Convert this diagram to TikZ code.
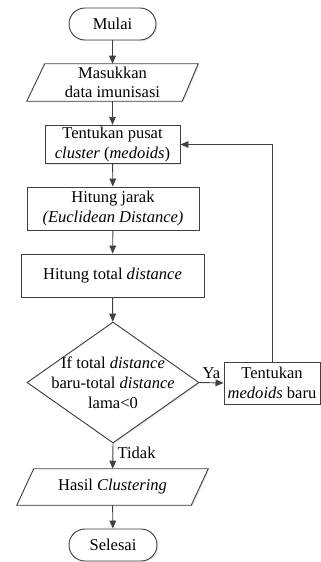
\documentclass[tikz,border=0pt]{standalone}
\usepackage{fontspec}
\setmainfont{Liberation Serif}
\usetikzlibrary{shapes.geometric,arrows.meta,calc,shadows}
\definecolor{lc}{gray}{0.25}
\begin{document}
\begin{tikzpicture}[x=0.75pt,y=-0.75pt,
  font=\fontsize{12.4}{14.6}\selectfont,
  shd/.style={drop shadow={opacity=0.18,shadow xshift=0.9pt,shadow yshift=-0.9pt}},
  base/.style={draw=lc,line width=0.7pt,fill=white,align=center,inner sep=1.5pt},
  term/.style={base,shd,rounded corners=12pt,minimum width=65.25pt,minimum height=24pt},
  proc/.style={base,shd,rectangle},
  iotext/.style={rectangle,align=center,inner sep=2pt},
  iobox/.style={draw=lc,line width=0.7pt,fill=white,shd},
  dec/.style={base,shd,diamond,inner sep=0pt,minimum width=129pt,minimum height=90.75pt},
  arr/.style={draw=lc,line width=0.7pt,-{Triangle[length=6pt,width=5pt]}},
  lbl/.style={inner sep=1pt}]
\useasboundingbox (0,0) rectangle (321,562);

% nodes
\node[term] (mulai) at (112.5,24) {Mulai};

\node[iotext,minimum width=128.25pt,minimum height=27.75pt] (in) at (112.5,82.5) {};
\draw[iobox] ($(in.north west)+(18,0)$) -- (in.north east) -- ($(in.south east)+(-16,0)$) -- (in.south west) -- cycle;
\node[iotext,align=center] (intext) at (in.center) {Masukkan\\data imunisasi};

\node[proc,minimum width=101.25pt,minimum height=27.75pt] (b1) at (112.5,144.5) {Tentukan pusat\\\textit{cluster} (\textit{medoids})};
\node[proc,minimum width=129pt,minimum height=32.25pt] (b2) at (113,208.5) {Hitung jarak\\\textit{(Euclidean Distance)}};
\node[proc,minimum width=137.25pt,minimum height=32.25pt] (b3) at (112.5,275.5) {Hitung total \textit{distance}};

\node[dec] (dec) at (113,382.5) {};
\node[iotext,align=center,font=\fontsize{12.4}{15}\selectfont] (dectext) at (113,383) {If total \textit{distance}\\baru-total \textit{distance}\\lama{\textless}0};

\node[proc,minimum width=72pt,minimum height=31.5pt] (tm) at (272,383) {Tentukan\\\textit{medoids} baru};

\node[iotext,minimum width=143.25pt,minimum height=27pt] (out) at (112.5,487) {};
\draw[iobox] ($(out.north west)+(17,0)$) -- (out.north east) -- ($(out.south east)+(-17,0)$) -- (out.south west) -- cycle;
\node[iotext] (outtext) at (out.center) {Hasil \textit{Clustering}};

\node[term,minimum width=66pt] (selesai) at (113,545) {Selesai};

% connectors
\draw[arr] (mulai) -- (in);
\draw[arr] (in) -- (b1);
\draw[arr] (b1) -- (b2);
\draw[arr] (b2) -- (b3);
\draw[arr] (b3) -- (dec);
\draw[arr] (dec.east) -- (tm.west);
\draw[arr] (tm.north) |- (b1.east);
\draw[arr] (dec.south) -- (out);
\draw[arr] (out) -- (selesai);

% labels
\node[lbl,anchor=south] (ya) at ($(dec.east)!0.5!(tm.west)+(0,-2)$) {Ya};
\node[lbl,anchor=west] (tidak) at ($(dec.south)+(3,9)$) {Tidak};
\end{tikzpicture}
\end{document}
